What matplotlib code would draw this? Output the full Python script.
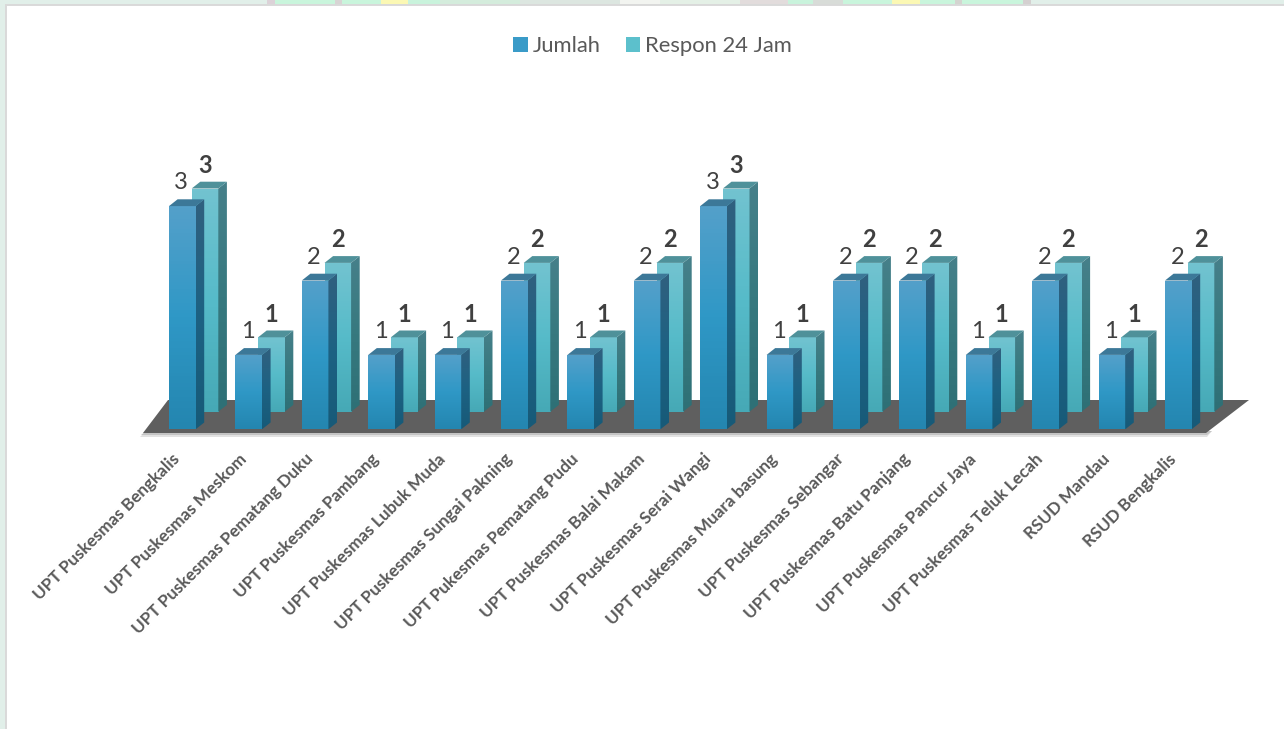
# -*- coding: utf-8 -*-
import numpy as np
import matplotlib
matplotlib.use("Agg")
import matplotlib.pyplot as plt
from matplotlib.colors import LinearSegmentedColormap
from matplotlib.patches import Polygon, Rectangle, Patch

plt.rcParams['font.family'] = ['Lato', 'DejaVu Sans']

# Datos
kategori = ['UPT Puskesmas Bengkalis', 'UPT Puskesmas Meskom', 'UPT Puskesmas Pematang Duku',
            'UPT Puskesmas Pambang', 'UPT Puskesmas Lubuk Muda', 'UPT Puskesmas Sungai Pakning',
            'UPT Pukesmas Pematang Pudu', 'UPT Puskesmas Balai Makam', 'UPT Puskesmas Serai Wangi',
            'UPT Puskesmas Muara basung', 'UPT Puskesmas Sebangar', 'UPT Puskesmas Batu Panjang',
            'UPT Puskesmas Pancur Jaya', 'UPT Puskesmas Teluk Lecah', 'RSUD Mandau', 'RSUD Bengkalis']
jumlah = [3, 1, 2, 1, 1, 2, 1, 2, 3, 1, 2, 2, 1, 2, 1, 2]
respon = [3, 1, 2, 1, 1, 2, 1, 2, 3, 1, 2, 2, 1, 2, 1, 2]

# Escalas (pixeles por unidad)
PX_X = 66.4
PX_Y = 74.4
X0 = 169.0
Y0 = 429.3
W, H = 1284, 729

BAR_W = 26.6 / PX_X
SIDE_X = 8.6 / PX_X
SIDE_Y = 6.8 / PX_Y
BACK_X = 22.7 / PX_X
BACK_Y = 17.6 / PX_Y


def grad(ax, poly, colores, z):
    # rellena un poligono con degradado vertical
    xy = poly.get_patch_transform().transform(poly.get_path().vertices)
    cmap = LinearSegmentedColormap.from_list('g', colores)
    img = np.linspace(0, 1, 64).reshape(-1, 1)
    im = ax.imshow(img, cmap=cmap, aspect='auto', origin='upper', zorder=z,
                   extent=(xy[:, 0].min(), xy[:, 0].max(), xy[:, 1].min(), xy[:, 1].max()))
    im.set_clip_path(poly)


def barra3d(ax, x, v, base, frente, lado, tapa, z):
    # cara frontal con la barra normal, lado y tapa en paralelogramos
    bar = ax.bar(x, v, BAR_W, bottom=base, align='edge', color='none', zorder=z)[0]
    grad(ax, bar, frente, z)
    x1 = x + BAR_W
    top = base + v
    p = Polygon([(x1, base), (x1 + SIDE_X, base + SIDE_Y), (x1 + SIDE_X, top + SIDE_Y), (x1, top)],
                facecolor='none', edgecolor='none', zorder=z)
    ax.add_patch(p)
    grad(ax, p, lado, z)
    ax.add_patch(Polygon([(x, top), (x + SIDE_X, top + SIDE_Y), (x1 + SIDE_X, top + SIDE_Y), (x1, top)],
                         facecolor=tapa, edgecolor='none', zorder=z))


fig = plt.figure(figsize=(W / 100, H / 100), dpi=100)

# Fondo de la captura
bg = fig.add_axes([0, 0, 1, 1])
bg.set_xlim(0, W)
bg.set_ylim(H, 0)
bg.axis('off')
bg.add_patch(Rectangle((0, 0), W, H, color='#e1efe9'))
tiras = [(267, 275, '#dcd2d8'), (275, 335, '#c9f5dc'), (335, 342, '#d8d4d4'), (342, 381, '#c9f5dc'),
         (381, 408, '#fbf8b4'), (408, 440, '#c9f3dc'), (440, 520, '#d4ecdc'), (520, 620, '#dce6e0'),
         (620, 660, '#f2f4f0'), (660, 740, '#e4f0e6'), (740, 788, '#e2dcdc'), (788, 813, '#c9f3dc'),
         (813, 843, '#d8dcd8'), (843, 892, '#c9f5dc'), (892, 920, '#fbf8b4'), (920, 955, '#c9f5dc'),
         (955, 962, '#d4d4d0'), (962, 1023, '#c9f5dc'), (1023, 1031, '#d4d0d0')]
for a, b, c in tiras:
    bg.add_patch(Rectangle((a, 0), b - a, 6, color=c, linewidth=0))
bg.add_patch(Rectangle((6, 5), W, H, facecolor='white', edgecolor='#d9d9d9', linewidth=1.4))

# Grafica
ax = fig.add_axes([0, 0, 1, 1])
ax.patch.set_alpha(0)
ax.axis('off')
xlim = (-X0 / PX_X, (W - X0) / PX_X)
ylim = (-(H - Y0) / PX_Y, Y0 / PX_Y)

# Piso
fx = lambda p: (p - X0) / PX_X
fy = lambda p: (Y0 - p) / PX_Y
ax.add_patch(Polygon([(fx(140), fy(437)), (fx(1207), fy(437)), (fx(1212), fy(431)), (fx(146), fy(431))],
                     facecolor='#e2e2e2', edgecolor='none', zorder=1))
ax.add_patch(Polygon([(fx(141), fy(435)), (fx(1207), fy(435)), (fx(1212), fy(431)), (fx(146), fy(431))],
                     facecolor='#c4c4c4', edgecolor='none', zorder=1))
ax.add_patch(Polygon([(fx(143), fy(433)), (fx(1206), fy(433)), (fx(1249), fy(400)), (fx(168), fy(400))],
                     facecolor='#5f5f5f', edgecolor='none', zorder=2))

pos = np.arange(len(kategori), dtype=float)
for i in pos:
    k = int(i)
    barra3d(ax, i + BACK_X, respon[k], BACK_Y,
            ['#72c3d0', '#56bbc9', '#46a9b6'], ['#46808a', '#37797f', '#2e7076'], '#4f919a', 3 + 2 * k)
    barra3d(ax, i, jumlah[k], 0.0,
            ['#54a0ca', '#2f98c6', '#2486b0'], ['#30607f', '#1d6283', '#175a78'], '#3c7898', 4 + 2 * k)
    ax.text(i + BAR_W / 2 - 1 / PX_X, jumlah[k] + 23.5 / PX_Y, str(jumlah[k]), ha='center', va='center',
            fontsize=17, color='#404040', zorder=60)
    ax.text(i + BACK_X + BAR_W / 2, respon[k] + BACK_Y + 23 / PX_Y, str(respon[k]), ha='center', va='center',
            fontsize=17, fontweight='bold', color='#404040', zorder=60)
    ax.text(i + BAR_W / 2 - 10.5 / PX_X, -21.5 / PX_Y, kategori[k], rotation=45, rotation_mode='anchor',
            ha='right', va='top', fontsize=12.3, fontweight='bold', color='#595959', zorder=60)

ax.set_xlim(*xlim)
ax.set_ylim(*ylim)

leyenda = [Patch(facecolor='#3a9bc8', label='Jumlah'), Patch(facecolor='#5cc0cc', label='Respon 24 Jam')]
ax.legend(handles=leyenda, loc='center', bbox_to_anchor=(652.5 / W, 1 - 46.5 / H), bbox_transform=fig.transFigure,
          ncol=2, frameon=False, fontsize=15.8, labelcolor='#595959', handlelength=0.65, handleheight=0.65,
          handletextpad=0.23, columnspacing=1.14)

fig.savefig('out.png', dpi=100)
